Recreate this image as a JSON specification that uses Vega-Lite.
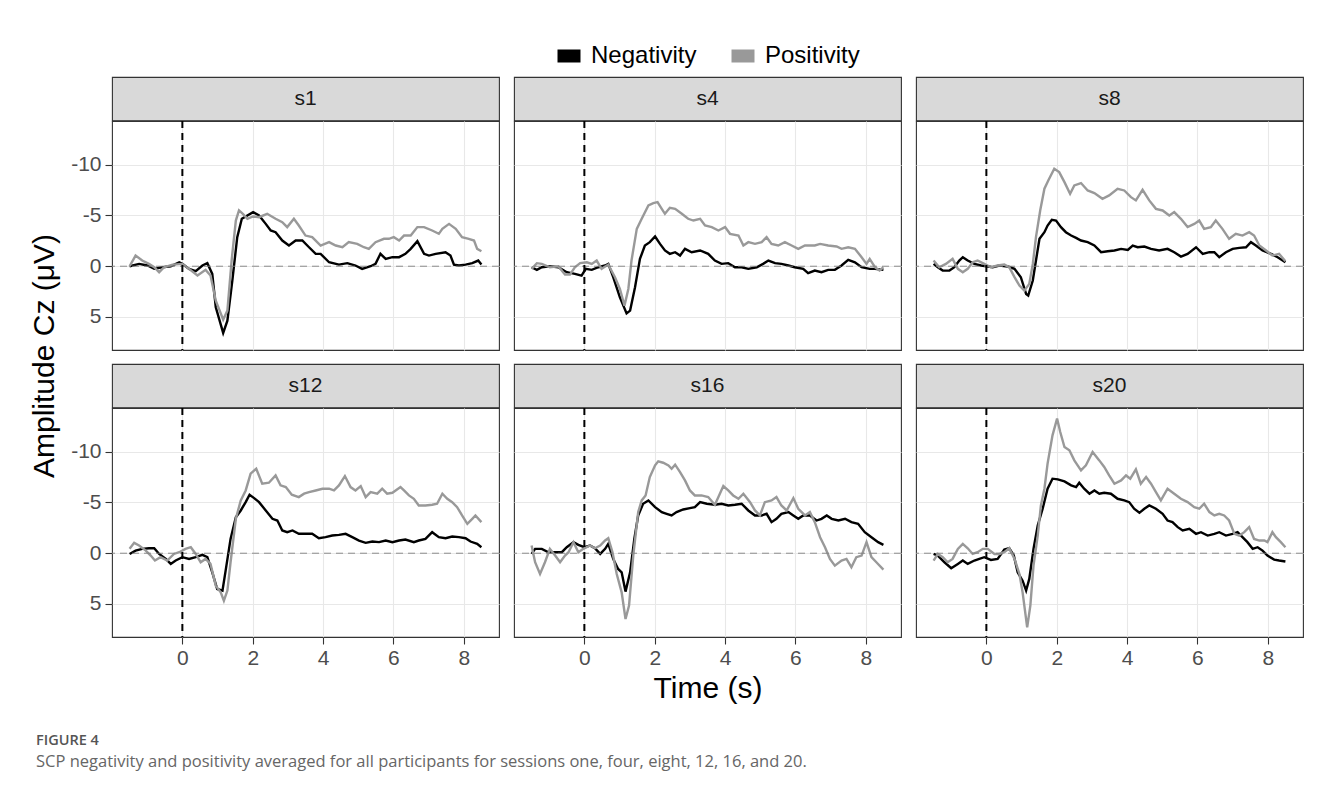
{
"$schema": "https://vega.github.io/schema/vega-lite/v6.json",
"background": "white",
"padding": {"left": 30, "top": 38, "right": 20, "bottom": 10},
"title": {"text": "FIGURE 4", "subtitle": "SCP negativity and positivity averaged for all participants for sessions one, four, eight, 12, 16, and 20.", "orient": "bottom", "anchor": "start", "frame": "group", "dx": -76, "offset": 30, "font": "Open Sans", "fontSize": 14.5, "fontWeight": 600, "color": "#555555", "subtitleFont": "Open Sans", "subtitleFontSize": 16.5, "subtitleColor": "#666666", "subtitlePadding": 6},
"datasets": {"d": [
{"s":"s1","c":"N","t":-1.5,"v":0},{"s":"s1","c":"N","t":-1.23,"v":-0.23},{"s":"s1","c":"N","t":-0.99,"v":-0.07},{"s":"s1","c":"N","t":-0.8,"v":0.26},{"s":"s1","c":"N","t":-0.57,"v":0.1},{"s":"s1","c":"N","t":-0.33,"v":0},{"s":"s1","c":"N","t":-0.09,"v":-0.39},{"s":"s1","c":"N","t":0,"v":-0.23},{"s":"s1","c":"N","t":0.19,"v":0.26},{"s":"s1","c":"N","t":0.38,"v":0.49},{"s":"s1","c":"N","t":0.57,"v":-0.07},{"s":"s1","c":"N","t":0.71,"v":-0.3},{"s":"s1","c":"N","t":0.85,"v":0.76},{"s":"s1","c":"N","t":0.95,"v":4.04},{"s":"s1","c":"N","t":1.16,"v":6.57},{"s":"s1","c":"N","t":1.28,"v":5.36},{"s":"s1","c":"N","t":1.42,"v":1.41},{"s":"s1","c":"N","t":1.56,"v":-2.86},{"s":"s1","c":"N","t":1.69,"v":-4.67},{"s":"s1","c":"N","t":1.8,"v":-4.9},{"s":"s1","c":"N","t":2.01,"v":-5.33},{"s":"s1","c":"N","t":2.18,"v":-5.0},{"s":"s1","c":"N","t":2.37,"v":-4.17},{"s":"s1","c":"N","t":2.51,"v":-3.52},{"s":"s1","c":"N","t":2.65,"v":-3.35},{"s":"s1","c":"N","t":2.84,"v":-2.53},{"s":"s1","c":"N","t":3.03,"v":-2.04},{"s":"s1","c":"N","t":3.22,"v":-2.53},{"s":"s1","c":"N","t":3.41,"v":-2.53},{"s":"s1","c":"N","t":3.6,"v":-1.87},{"s":"s1","c":"N","t":3.79,"v":-1.22},{"s":"s1","c":"N","t":3.93,"v":-1.22},{"s":"s1","c":"N","t":4.17,"v":-0.39},{"s":"s1","c":"N","t":4.45,"v":-0.16},{"s":"s1","c":"N","t":4.69,"v":-0.3},{"s":"s1","c":"N","t":4.92,"v":-0.07},{"s":"s1","c":"N","t":5.11,"v":0.26},{"s":"s1","c":"N","t":5.35,"v":0},{"s":"s1","c":"N","t":5.49,"v":-0.23},{"s":"s1","c":"N","t":5.63,"v":-1.22},{"s":"s1","c":"N","t":5.78,"v":-0.72},{"s":"s1","c":"N","t":5.97,"v":-0.89},{"s":"s1","c":"N","t":6.16,"v":-0.89},{"s":"s1","c":"N","t":6.34,"v":-1.22},{"s":"s1","c":"N","t":6.49,"v":-1.71},{"s":"s1","c":"N","t":6.68,"v":-2.47},{"s":"s1","c":"N","t":6.87,"v":-1.22},{"s":"s1","c":"N","t":7.01,"v":-1.05},{"s":"s1","c":"N","t":7.2,"v":-1.22},{"s":"s1","c":"N","t":7.48,"v":-1.38},{"s":"s1","c":"N","t":7.62,"v":-1.05},{"s":"s1","c":"N","t":7.72,"v":-0.16},{"s":"s1","c":"N","t":7.86,"v":-0.07},{"s":"s1","c":"N","t":8.05,"v":-0.16},{"s":"s1","c":"N","t":8.24,"v":-0.3},{"s":"s1","c":"N","t":8.41,"v":-0.56},{"s":"s1","c":"N","t":8.5,"v":-0.16},
{"s":"s1","c":"P","t":-1.5,"v":0},{"s":"s1","c":"P","t":-1.33,"v":-1.05},{"s":"s1","c":"P","t":-1.14,"v":-0.56},{"s":"s1","c":"P","t":-0.95,"v":-0.23},{"s":"s1","c":"P","t":-0.8,"v":0.1},{"s":"s1","c":"P","t":-0.66,"v":0.59},{"s":"s1","c":"P","t":-0.52,"v":0.1},{"s":"s1","c":"P","t":-0.28,"v":-0.16},{"s":"s1","c":"P","t":0,"v":-0.23},{"s":"s1","c":"P","t":0.19,"v":0.26},{"s":"s1","c":"P","t":0.43,"v":0.92},{"s":"s1","c":"P","t":0.66,"v":0.36},{"s":"s1","c":"P","t":0.8,"v":0.92},{"s":"s1","c":"P","t":0.95,"v":3.39},{"s":"s1","c":"P","t":1.16,"v":5.26},{"s":"s1","c":"P","t":1.28,"v":4.37},{"s":"s1","c":"P","t":1.4,"v":-0.56},{"s":"s1","c":"P","t":1.52,"v":-4.5},{"s":"s1","c":"P","t":1.61,"v":-5.49},{"s":"s1","c":"P","t":1.72,"v":-5.16},{"s":"s1","c":"P","t":1.85,"v":-4.67},{"s":"s1","c":"P","t":2.01,"v":-4.9},{"s":"s1","c":"P","t":2.18,"v":-4.83},{"s":"s1","c":"P","t":2.41,"v":-5.16},{"s":"s1","c":"P","t":2.65,"v":-4.67},{"s":"s1","c":"P","t":2.84,"v":-4.34},{"s":"s1","c":"P","t":2.98,"v":-3.85},{"s":"s1","c":"P","t":3.17,"v":-4.67},{"s":"s1","c":"P","t":3.31,"v":-4.01},{"s":"s1","c":"P","t":3.5,"v":-3.02},{"s":"s1","c":"P","t":3.69,"v":-2.86},{"s":"s1","c":"P","t":3.93,"v":-2.04},{"s":"s1","c":"P","t":4.17,"v":-2.37},{"s":"s1","c":"P","t":4.36,"v":-2.04},{"s":"s1","c":"P","t":4.55,"v":-1.87},{"s":"s1","c":"P","t":4.73,"v":-2.37},{"s":"s1","c":"P","t":4.97,"v":-2.2},{"s":"s1","c":"P","t":5.16,"v":-1.87},{"s":"s1","c":"P","t":5.3,"v":-1.71},{"s":"s1","c":"P","t":5.49,"v":-2.37},{"s":"s1","c":"P","t":5.73,"v":-2.7},{"s":"s1","c":"P","t":5.87,"v":-2.7},{"s":"s1","c":"P","t":6.01,"v":-2.86},{"s":"s1","c":"P","t":6.16,"v":-2.53},{"s":"s1","c":"P","t":6.3,"v":-3.02},{"s":"s1","c":"P","t":6.49,"v":-3.02},{"s":"s1","c":"P","t":6.68,"v":-3.85},{"s":"s1","c":"P","t":6.87,"v":-3.85},{"s":"s1","c":"P","t":7.1,"v":-3.52},{"s":"s1","c":"P","t":7.29,"v":-3.19},{"s":"s1","c":"P","t":7.39,"v":-3.68},{"s":"s1","c":"P","t":7.58,"v":-4.17},{"s":"s1","c":"P","t":7.77,"v":-3.68},{"s":"s1","c":"P","t":7.95,"v":-2.86},{"s":"s1","c":"P","t":8.14,"v":-2.7},{"s":"s1","c":"P","t":8.29,"v":-2.53},{"s":"s1","c":"P","t":8.38,"v":-1.71},{"s":"s1","c":"P","t":8.5,"v":-1.48},
{"s":"s4","c":"N","t":-1.5,"v":0.1},{"s":"s4","c":"N","t":-1.35,"v":0.36},{"s":"s4","c":"N","t":-1.21,"v":0.1},{"s":"s4","c":"N","t":-0.98,"v":0},{"s":"s4","c":"N","t":-0.74,"v":0.1},{"s":"s4","c":"N","t":-0.5,"v":0.59},{"s":"s4","c":"N","t":-0.27,"v":0.76},{"s":"s4","c":"N","t":-0.08,"v":0.92},{"s":"s4","c":"N","t":0.04,"v":0.26},{"s":"s4","c":"N","t":0.21,"v":0.36},{"s":"s4","c":"N","t":0.4,"v":0.1},{"s":"s4","c":"N","t":0.59,"v":-0.07},{"s":"s4","c":"N","t":0.68,"v":-0.23},{"s":"s4","c":"N","t":0.82,"v":1.08},{"s":"s4","c":"N","t":1.01,"v":3.06},{"s":"s4","c":"N","t":1.2,"v":4.64},{"s":"s4","c":"N","t":1.3,"v":4.37},{"s":"s4","c":"N","t":1.44,"v":2.07},{"s":"s4","c":"N","t":1.58,"v":-0.72},{"s":"s4","c":"N","t":1.72,"v":-2.04},{"s":"s4","c":"N","t":1.86,"v":-2.37},{"s":"s4","c":"N","t":2.01,"v":-2.93},{"s":"s4","c":"N","t":2.15,"v":-2.2},{"s":"s4","c":"N","t":2.29,"v":-1.55},{"s":"s4","c":"N","t":2.43,"v":-1.22},{"s":"s4","c":"N","t":2.58,"v":-1.38},{"s":"s4","c":"N","t":2.72,"v":-1.05},{"s":"s4","c":"N","t":2.86,"v":-1.71},{"s":"s4","c":"N","t":3.05,"v":-1.38},{"s":"s4","c":"N","t":3.29,"v":-1.55},{"s":"s4","c":"N","t":3.52,"v":-1.22},{"s":"s4","c":"N","t":3.71,"v":-0.56},{"s":"s4","c":"N","t":3.9,"v":-0.23},{"s":"s4","c":"N","t":4.09,"v":-0.3},{"s":"s4","c":"N","t":4.28,"v":0.1},{"s":"s4","c":"N","t":4.47,"v":0.1},{"s":"s4","c":"N","t":4.66,"v":0.26},{"s":"s4","c":"N","t":4.9,"v":0.1},{"s":"s4","c":"N","t":5.08,"v":-0.23},{"s":"s4","c":"N","t":5.23,"v":-0.56},{"s":"s4","c":"N","t":5.42,"v":-0.3},{"s":"s4","c":"N","t":5.6,"v":-0.23},{"s":"s4","c":"N","t":5.8,"v":-0.07},{"s":"s4","c":"N","t":5.98,"v":0.1},{"s":"s4","c":"N","t":6.22,"v":0.26},{"s":"s4","c":"N","t":6.36,"v":0.69},{"s":"s4","c":"N","t":6.55,"v":0.43},{"s":"s4","c":"N","t":6.74,"v":0.59},{"s":"s4","c":"N","t":6.93,"v":0.36},{"s":"s4","c":"N","t":7.12,"v":0.36},{"s":"s4","c":"N","t":7.31,"v":-0.07},{"s":"s4","c":"N","t":7.5,"v":-0.62},{"s":"s4","c":"N","t":7.69,"v":-0.39},{"s":"s4","c":"N","t":7.88,"v":0.1},{"s":"s4","c":"N","t":8.11,"v":0.26},{"s":"s4","c":"N","t":8.26,"v":0.26},{"s":"s4","c":"N","t":8.5,"v":0.36},
{"s":"s4","c":"P","t":-1.5,"v":0.26},{"s":"s4","c":"P","t":-1.35,"v":-0.3},{"s":"s4","c":"P","t":-1.21,"v":-0.23},{"s":"s4","c":"P","t":-0.98,"v":0.1},{"s":"s4","c":"P","t":-0.74,"v":0},{"s":"s4","c":"P","t":-0.55,"v":0.82},{"s":"s4","c":"P","t":-0.41,"v":0.82},{"s":"s4","c":"P","t":-0.27,"v":0.1},{"s":"s4","c":"P","t":-0.12,"v":-0.3},{"s":"s4","c":"P","t":0.07,"v":-0.39},{"s":"s4","c":"P","t":0.21,"v":-0.23},{"s":"s4","c":"P","t":0.35,"v":-0.56},{"s":"s4","c":"P","t":0.49,"v":0.26},{"s":"s4","c":"P","t":0.68,"v":-0.16},{"s":"s4","c":"P","t":0.87,"v":1.08},{"s":"s4","c":"P","t":1.01,"v":2.24},{"s":"s4","c":"P","t":1.14,"v":3.88},{"s":"s4","c":"P","t":1.25,"v":2.24},{"s":"s4","c":"P","t":1.34,"v":-0.56},{"s":"s4","c":"P","t":1.49,"v":-3.68},{"s":"s4","c":"P","t":1.63,"v":-4.67},{"s":"s4","c":"P","t":1.82,"v":-5.98},{"s":"s4","c":"P","t":1.96,"v":-6.21},{"s":"s4","c":"P","t":2.08,"v":-6.31},{"s":"s4","c":"P","t":2.2,"v":-5.65},{"s":"s4","c":"P","t":2.29,"v":-5.16},{"s":"s4","c":"P","t":2.43,"v":-5.75},{"s":"s4","c":"P","t":2.58,"v":-5.65},{"s":"s4","c":"P","t":2.77,"v":-5.16},{"s":"s4","c":"P","t":2.95,"v":-4.67},{"s":"s4","c":"P","t":3.1,"v":-4.5},{"s":"s4","c":"P","t":3.29,"v":-4.67},{"s":"s4","c":"P","t":3.43,"v":-4.01},{"s":"s4","c":"P","t":3.62,"v":-3.85},{"s":"s4","c":"P","t":3.81,"v":-3.52},{"s":"s4","c":"P","t":4.0,"v":-3.85},{"s":"s4","c":"P","t":4.14,"v":-3.19},{"s":"s4","c":"P","t":4.38,"v":-3.02},{"s":"s4","c":"P","t":4.52,"v":-2.04},{"s":"s4","c":"P","t":4.66,"v":-2.37},{"s":"s4","c":"P","t":4.85,"v":-2.2},{"s":"s4","c":"P","t":5.04,"v":-2.37},{"s":"s4","c":"P","t":5.18,"v":-2.86},{"s":"s4","c":"P","t":5.32,"v":-2.2},{"s":"s4","c":"P","t":5.51,"v":-2.04},{"s":"s4","c":"P","t":5.7,"v":-2.37},{"s":"s4","c":"P","t":5.89,"v":-2.04},{"s":"s4","c":"P","t":6.08,"v":-1.71},{"s":"s4","c":"P","t":6.27,"v":-2.04},{"s":"s4","c":"P","t":6.55,"v":-2.04},{"s":"s4","c":"P","t":6.7,"v":-2.2},{"s":"s4","c":"P","t":6.93,"v":-2.04},{"s":"s4","c":"P","t":7.17,"v":-1.94},{"s":"s4","c":"P","t":7.31,"v":-1.71},{"s":"s4","c":"P","t":7.5,"v":-1.87},{"s":"s4","c":"P","t":7.69,"v":-1.71},{"s":"s4","c":"P","t":7.88,"v":-0.89},{"s":"s4","c":"P","t":8.02,"v":-0.23},{"s":"s4","c":"P","t":8.11,"v":-0.72},{"s":"s4","c":"P","t":8.26,"v":0.1},{"s":"s4","c":"P","t":8.39,"v":0.43},{"s":"s4","c":"P","t":8.5,"v":0.1},
{"s":"s8","c":"N","t":-1.5,"v":-0.23},{"s":"s8","c":"N","t":-1.38,"v":0.1},{"s":"s8","c":"N","t":-1.24,"v":0.43},{"s":"s8","c":"N","t":-1.05,"v":0.43},{"s":"s8","c":"N","t":-0.91,"v":0.1},{"s":"s8","c":"N","t":-0.77,"v":-0.56},{"s":"s8","c":"N","t":-0.67,"v":-0.89},{"s":"s8","c":"N","t":-0.53,"v":-0.56},{"s":"s8","c":"N","t":-0.34,"v":-0.23},{"s":"s8","c":"N","t":-0.15,"v":-0.07},{"s":"s8","c":"N","t":0,"v":0},{"s":"s8","c":"N","t":0.18,"v":0.1},{"s":"s8","c":"N","t":0.37,"v":-0.07},{"s":"s8","c":"N","t":0.61,"v":0.03},{"s":"s8","c":"N","t":0.8,"v":0.26},{"s":"s8","c":"N","t":0.98,"v":1.08},{"s":"s8","c":"N","t":1.13,"v":2.73},{"s":"s8","c":"N","t":1.19,"v":2.89},{"s":"s8","c":"N","t":1.32,"v":1.41},{"s":"s8","c":"N","t":1.41,"v":-0.56},{"s":"s8","c":"N","t":1.51,"v":-2.7},{"s":"s8","c":"N","t":1.65,"v":-3.35},{"s":"s8","c":"N","t":1.74,"v":-4.01},{"s":"s8","c":"N","t":1.86,"v":-4.57},{"s":"s8","c":"N","t":1.98,"v":-4.5},{"s":"s8","c":"N","t":2.12,"v":-3.85},{"s":"s8","c":"N","t":2.26,"v":-3.35},{"s":"s8","c":"N","t":2.41,"v":-3.02},{"s":"s8","c":"N","t":2.55,"v":-2.79},{"s":"s8","c":"N","t":2.69,"v":-2.53},{"s":"s8","c":"N","t":2.88,"v":-2.37},{"s":"s8","c":"N","t":3.07,"v":-2.04},{"s":"s8","c":"N","t":3.26,"v":-1.38},{"s":"s8","c":"N","t":3.45,"v":-1.48},{"s":"s8","c":"N","t":3.64,"v":-1.55},{"s":"s8","c":"N","t":3.83,"v":-1.71},{"s":"s8","c":"N","t":4.02,"v":-1.61},{"s":"s8","c":"N","t":4.16,"v":-2.04},{"s":"s8","c":"N","t":4.3,"v":-1.87},{"s":"s8","c":"N","t":4.49,"v":-1.94},{"s":"s8","c":"N","t":4.68,"v":-1.71},{"s":"s8","c":"N","t":4.91,"v":-1.55},{"s":"s8","c":"N","t":5.15,"v":-1.71},{"s":"s8","c":"N","t":5.34,"v":-1.38},{"s":"s8","c":"N","t":5.53,"v":-0.95},{"s":"s8","c":"N","t":5.72,"v":-1.22},{"s":"s8","c":"N","t":5.96,"v":-1.87},{"s":"s8","c":"N","t":6.15,"v":-1.22},{"s":"s8","c":"N","t":6.34,"v":-1.38},{"s":"s8","c":"N","t":6.48,"v":-1.38},{"s":"s8","c":"N","t":6.62,"v":-0.89},{"s":"s8","c":"N","t":6.81,"v":-1.38},{"s":"s8","c":"N","t":7.0,"v":-1.71},{"s":"s8","c":"N","t":7.19,"v":-1.81},{"s":"s8","c":"N","t":7.38,"v":-1.87},{"s":"s8","c":"N","t":7.52,"v":-2.37},{"s":"s8","c":"N","t":7.66,"v":-2.04},{"s":"s8","c":"N","t":7.85,"v":-1.55},{"s":"s8","c":"N","t":8.09,"v":-1.22},{"s":"s8","c":"N","t":8.28,"v":-0.89},{"s":"s8","c":"N","t":8.5,"v":-0.39},
{"s":"s8","c":"P","t":-1.5,"v":-0.56},{"s":"s8","c":"P","t":-1.34,"v":0.1},{"s":"s8","c":"P","t":-1.15,"v":-0.23},{"s":"s8","c":"P","t":-0.96,"v":-0.72},{"s":"s8","c":"P","t":-0.81,"v":0.26},{"s":"s8","c":"P","t":-0.67,"v":0.59},{"s":"s8","c":"P","t":-0.53,"v":0.26},{"s":"s8","c":"P","t":-0.39,"v":-0.39},{"s":"s8","c":"P","t":-0.25,"v":-0.56},{"s":"s8","c":"P","t":-0.06,"v":-0.23},{"s":"s8","c":"P","t":0.13,"v":0.1},{"s":"s8","c":"P","t":0.32,"v":-0.07},{"s":"s8","c":"P","t":0.51,"v":-0.16},{"s":"s8","c":"P","t":0.65,"v":0.1},{"s":"s8","c":"P","t":0.8,"v":1.08},{"s":"s8","c":"P","t":0.94,"v":1.91},{"s":"s8","c":"P","t":1.08,"v":2.4},{"s":"s8","c":"P","t":1.22,"v":1.74},{"s":"s8","c":"P","t":1.32,"v":-0.23},{"s":"s8","c":"P","t":1.41,"v":-2.86},{"s":"s8","c":"P","t":1.53,"v":-5.49},{"s":"s8","c":"P","t":1.65,"v":-7.63},{"s":"s8","c":"P","t":1.76,"v":-8.45},{"s":"s8","c":"P","t":1.93,"v":-9.6},{"s":"s8","c":"P","t":2.07,"v":-9.27},{"s":"s8","c":"P","t":2.22,"v":-8.28},{"s":"s8","c":"P","t":2.38,"v":-7.13},{"s":"s8","c":"P","t":2.5,"v":-7.96},{"s":"s8","c":"P","t":2.69,"v":-8.19},{"s":"s8","c":"P","t":2.88,"v":-7.46},{"s":"s8","c":"P","t":3.07,"v":-7.2},{"s":"s8","c":"P","t":3.3,"v":-6.64},{"s":"s8","c":"P","t":3.49,"v":-6.97},{"s":"s8","c":"P","t":3.73,"v":-7.63},{"s":"s8","c":"P","t":3.92,"v":-7.46},{"s":"s8","c":"P","t":4.11,"v":-6.8},{"s":"s8","c":"P","t":4.25,"v":-6.48},{"s":"s8","c":"P","t":4.44,"v":-7.53},{"s":"s8","c":"P","t":4.63,"v":-6.48},{"s":"s8","c":"P","t":4.82,"v":-5.65},{"s":"s8","c":"P","t":5.01,"v":-5.49},{"s":"s8","c":"P","t":5.2,"v":-5.0},{"s":"s8","c":"P","t":5.34,"v":-5.33},{"s":"s8","c":"P","t":5.53,"v":-4.67},{"s":"s8","c":"P","t":5.72,"v":-3.85},{"s":"s8","c":"P","t":5.91,"v":-4.17},{"s":"s8","c":"P","t":6.05,"v":-4.5},{"s":"s8","c":"P","t":6.19,"v":-3.68},{"s":"s8","c":"P","t":6.38,"v":-3.85},{"s":"s8","c":"P","t":6.52,"v":-4.5},{"s":"s8","c":"P","t":6.71,"v":-3.68},{"s":"s8","c":"P","t":6.9,"v":-2.7},{"s":"s8","c":"P","t":7.09,"v":-3.19},{"s":"s8","c":"P","t":7.28,"v":-3.02},{"s":"s8","c":"P","t":7.47,"v":-3.35},{"s":"s8","c":"P","t":7.61,"v":-3.02},{"s":"s8","c":"P","t":7.76,"v":-2.04},{"s":"s8","c":"P","t":7.95,"v":-1.55},{"s":"s8","c":"P","t":8.13,"v":-1.05},{"s":"s8","c":"P","t":8.32,"v":-1.22},{"s":"s8","c":"P","t":8.5,"v":-0.49},
{"s":"s12","c":"N","t":-1.5,"v":0.07},{"s":"s12","c":"N","t":-1.33,"v":-0.26},{"s":"s12","c":"N","t":-1.14,"v":-0.43},{"s":"s12","c":"N","t":-0.95,"v":-0.49},{"s":"s12","c":"N","t":-0.8,"v":-0.49},{"s":"s12","c":"N","t":-0.66,"v":0.07},{"s":"s12","c":"N","t":-0.47,"v":0.56},{"s":"s12","c":"N","t":-0.33,"v":1.05},{"s":"s12","c":"N","t":-0.19,"v":0.72},{"s":"s12","c":"N","t":0,"v":0.39},{"s":"s12","c":"N","t":0.19,"v":0.56},{"s":"s12","c":"N","t":0.38,"v":0.39},{"s":"s12","c":"N","t":0.57,"v":0.16},{"s":"s12","c":"N","t":0.71,"v":0.39},{"s":"s12","c":"N","t":0.85,"v":1.88},{"s":"s12","c":"N","t":0.99,"v":3.52},{"s":"s12","c":"N","t":1.14,"v":3.68},{"s":"s12","c":"N","t":1.23,"v":1.71},{"s":"s12","c":"N","t":1.37,"v":-1.41},{"s":"s12","c":"N","t":1.52,"v":-3.55},{"s":"s12","c":"N","t":1.66,"v":-4.21},{"s":"s12","c":"N","t":1.8,"v":-5.03},{"s":"s12","c":"N","t":1.91,"v":-5.76},{"s":"s12","c":"N","t":2.04,"v":-5.43},{"s":"s12","c":"N","t":2.18,"v":-5.03},{"s":"s12","c":"N","t":2.37,"v":-4.21},{"s":"s12","c":"N","t":2.56,"v":-3.39},{"s":"s12","c":"N","t":2.7,"v":-3.22},{"s":"s12","c":"N","t":2.84,"v":-2.24},{"s":"s12","c":"N","t":2.98,"v":-2.07},{"s":"s12","c":"N","t":3.13,"v":-2.24},{"s":"s12","c":"N","t":3.31,"v":-1.91},{"s":"s12","c":"N","t":3.5,"v":-1.91},{"s":"s12","c":"N","t":3.69,"v":-1.91},{"s":"s12","c":"N","t":3.88,"v":-1.48},{"s":"s12","c":"N","t":4.07,"v":-1.58},{"s":"s12","c":"N","t":4.26,"v":-1.74},{"s":"s12","c":"N","t":4.45,"v":-1.81},{"s":"s12","c":"N","t":4.64,"v":-1.91},{"s":"s12","c":"N","t":4.83,"v":-1.58},{"s":"s12","c":"N","t":5.02,"v":-1.25},{"s":"s12","c":"N","t":5.21,"v":-1.02},{"s":"s12","c":"N","t":5.4,"v":-1.15},{"s":"s12","c":"N","t":5.59,"v":-1.09},{"s":"s12","c":"N","t":5.78,"v":-1.25},{"s":"s12","c":"N","t":5.97,"v":-1.09},{"s":"s12","c":"N","t":6.16,"v":-1.25},{"s":"s12","c":"N","t":6.34,"v":-1.35},{"s":"s12","c":"N","t":6.58,"v":-1.09},{"s":"s12","c":"N","t":6.72,"v":-1.25},{"s":"s12","c":"N","t":6.91,"v":-1.41},{"s":"s12","c":"N","t":7.1,"v":-2.07},{"s":"s12","c":"N","t":7.29,"v":-1.58},{"s":"s12","c":"N","t":7.48,"v":-1.48},{"s":"s12","c":"N","t":7.67,"v":-1.64},{"s":"s12","c":"N","t":7.86,"v":-1.58},{"s":"s12","c":"N","t":8.05,"v":-1.48},{"s":"s12","c":"N","t":8.19,"v":-1.15},{"s":"s12","c":"N","t":8.38,"v":-0.92},{"s":"s12","c":"N","t":8.5,"v":-0.59},
{"s":"s12","c":"P","t":-1.5,"v":-0.43},{"s":"s12","c":"P","t":-1.37,"v":-1.02},{"s":"s12","c":"P","t":-1.23,"v":-0.76},{"s":"s12","c":"P","t":-1.04,"v":-0.26},{"s":"s12","c":"P","t":-0.9,"v":0.23},{"s":"s12","c":"P","t":-0.78,"v":0.72},{"s":"s12","c":"P","t":-0.62,"v":0.39},{"s":"s12","c":"P","t":-0.43,"v":0.72},{"s":"s12","c":"P","t":-0.24,"v":0.07},{"s":"s12","c":"P","t":-0.09,"v":-0.1},{"s":"s12","c":"P","t":0.09,"v":-0.43},{"s":"s12","c":"P","t":0.24,"v":-0.59},{"s":"s12","c":"P","t":0.38,"v":0.07},{"s":"s12","c":"P","t":0.52,"v":0.89},{"s":"s12","c":"P","t":0.66,"v":0.56},{"s":"s12","c":"P","t":0.8,"v":1.05},{"s":"s12","c":"P","t":0.95,"v":3.19},{"s":"s12","c":"P","t":1.09,"v":3.85},{"s":"s12","c":"P","t":1.18,"v":4.67},{"s":"s12","c":"P","t":1.28,"v":3.68},{"s":"s12","c":"P","t":1.37,"v":0.89},{"s":"s12","c":"P","t":1.52,"v":-3.39},{"s":"s12","c":"P","t":1.66,"v":-5.2},{"s":"s12","c":"P","t":1.8,"v":-6.18},{"s":"s12","c":"P","t":1.94,"v":-7.83},{"s":"s12","c":"P","t":2.1,"v":-8.32},{"s":"s12","c":"P","t":2.27,"v":-6.84},{"s":"s12","c":"P","t":2.46,"v":-6.94},{"s":"s12","c":"P","t":2.65,"v":-7.66},{"s":"s12","c":"P","t":2.79,"v":-6.68},{"s":"s12","c":"P","t":2.94,"v":-6.51},{"s":"s12","c":"P","t":3.11,"v":-5.76},{"s":"s12","c":"P","t":3.31,"v":-5.53},{"s":"s12","c":"P","t":3.46,"v":-5.86},{"s":"s12","c":"P","t":3.6,"v":-6.02},{"s":"s12","c":"P","t":3.79,"v":-6.18},{"s":"s12","c":"P","t":3.98,"v":-6.35},{"s":"s12","c":"P","t":4.17,"v":-6.35},{"s":"s12","c":"P","t":4.31,"v":-6.18},{"s":"s12","c":"P","t":4.45,"v":-6.68},{"s":"s12","c":"P","t":4.62,"v":-7.6},{"s":"s12","c":"P","t":4.78,"v":-6.51},{"s":"s12","c":"P","t":4.92,"v":-6.18},{"s":"s12","c":"P","t":5.07,"v":-6.61},{"s":"s12","c":"P","t":5.21,"v":-5.53},{"s":"s12","c":"P","t":5.35,"v":-6.02},{"s":"s12","c":"P","t":5.54,"v":-5.86},{"s":"s12","c":"P","t":5.68,"v":-6.35},{"s":"s12","c":"P","t":5.82,"v":-5.86},{"s":"s12","c":"P","t":5.97,"v":-5.95},{"s":"s12","c":"P","t":6.2,"v":-6.51},{"s":"s12","c":"P","t":6.3,"v":-6.18},{"s":"s12","c":"P","t":6.44,"v":-5.69},{"s":"s12","c":"P","t":6.58,"v":-5.36},{"s":"s12","c":"P","t":6.72,"v":-4.7},{"s":"s12","c":"P","t":6.91,"v":-4.7},{"s":"s12","c":"P","t":7.1,"v":-4.77},{"s":"s12","c":"P","t":7.24,"v":-4.87},{"s":"s12","c":"P","t":7.39,"v":-5.86},{"s":"s12","c":"P","t":7.53,"v":-5.36},{"s":"s12","c":"P","t":7.67,"v":-5.03},{"s":"s12","c":"P","t":7.81,"v":-4.54},{"s":"s12","c":"P","t":7.95,"v":-3.72},{"s":"s12","c":"P","t":8.1,"v":-2.89},{"s":"s12","c":"P","t":8.24,"v":-3.39},{"s":"s12","c":"P","t":8.33,"v":-3.72},{"s":"s12","c":"P","t":8.5,"v":-3.06},
{"s":"s16","c":"N","t":-1.5,"v":0.07},{"s":"s16","c":"N","t":-1.4,"v":-0.43},{"s":"s16","c":"N","t":-1.21,"v":-0.43},{"s":"s16","c":"N","t":-1.02,"v":-0.1},{"s":"s16","c":"N","t":-0.83,"v":-0.1},{"s":"s16","c":"N","t":-0.64,"v":-0.1},{"s":"s16","c":"N","t":-0.5,"v":-0.59},{"s":"s16","c":"N","t":-0.31,"v":-1.09},{"s":"s16","c":"N","t":-0.17,"v":-0.82},{"s":"s16","c":"N","t":0,"v":-0.59},{"s":"s16","c":"N","t":0.16,"v":-0.76},{"s":"s16","c":"N","t":0.3,"v":-0.49},{"s":"s16","c":"N","t":0.45,"v":0.07},{"s":"s16","c":"N","t":0.59,"v":-0.43},{"s":"s16","c":"N","t":0.68,"v":-0.92},{"s":"s16","c":"N","t":0.82,"v":0.56},{"s":"s16","c":"N","t":0.96,"v":1.55},{"s":"s16","c":"N","t":1.06,"v":1.88},{"s":"s16","c":"N","t":1.17,"v":3.78},{"s":"s16","c":"N","t":1.3,"v":1.88},{"s":"s16","c":"N","t":1.42,"v":-1.41},{"s":"s16","c":"N","t":1.53,"v":-3.72},{"s":"s16","c":"N","t":1.67,"v":-4.87},{"s":"s16","c":"N","t":1.82,"v":-5.2},{"s":"s16","c":"N","t":2.01,"v":-4.54},{"s":"s16","c":"N","t":2.2,"v":-4.05},{"s":"s16","c":"N","t":2.34,"v":-3.88},{"s":"s16","c":"N","t":2.48,"v":-3.72},{"s":"s16","c":"N","t":2.62,"v":-4.05},{"s":"s16","c":"N","t":2.81,"v":-4.31},{"s":"s16","c":"N","t":3.0,"v":-4.44},{"s":"s16","c":"N","t":3.14,"v":-4.54},{"s":"s16","c":"N","t":3.29,"v":-5.03},{"s":"s16","c":"N","t":3.48,"v":-4.87},{"s":"s16","c":"N","t":3.71,"v":-4.77},{"s":"s16","c":"N","t":3.9,"v":-4.87},{"s":"s16","c":"N","t":4.09,"v":-4.7},{"s":"s16","c":"N","t":4.28,"v":-4.77},{"s":"s16","c":"N","t":4.47,"v":-4.87},{"s":"s16","c":"N","t":4.66,"v":-4.21},{"s":"s16","c":"N","t":4.85,"v":-3.72},{"s":"s16","c":"N","t":5.04,"v":-3.72},{"s":"s16","c":"N","t":5.18,"v":-3.88},{"s":"s16","c":"N","t":5.32,"v":-3.06},{"s":"s16","c":"N","t":5.46,"v":-3.39},{"s":"s16","c":"N","t":5.6,"v":-3.88},{"s":"s16","c":"N","t":5.8,"v":-4.05},{"s":"s16","c":"N","t":5.94,"v":-3.72},{"s":"s16","c":"N","t":6.08,"v":-3.39},{"s":"s16","c":"N","t":6.22,"v":-3.72},{"s":"s16","c":"N","t":6.41,"v":-3.72},{"s":"s16","c":"N","t":6.6,"v":-3.22},{"s":"s16","c":"N","t":6.74,"v":-3.39},{"s":"s16","c":"N","t":6.89,"v":-3.72},{"s":"s16","c":"N","t":7.03,"v":-3.39},{"s":"s16","c":"N","t":7.22,"v":-3.22},{"s":"s16","c":"N","t":7.41,"v":-3.39},{"s":"s16","c":"N","t":7.59,"v":-3.06},{"s":"s16","c":"N","t":7.78,"v":-2.89},{"s":"s16","c":"N","t":7.97,"v":-2.07},{"s":"s16","c":"N","t":8.16,"v":-1.58},{"s":"s16","c":"N","t":8.35,"v":-1.09},{"s":"s16","c":"N","t":8.5,"v":-0.82},
{"s":"s16","c":"P","t":-1.5,"v":-0.76},{"s":"s16","c":"P","t":-1.4,"v":0.89},{"s":"s16","c":"P","t":-1.26,"v":2.04},{"s":"s16","c":"P","t":-1.12,"v":0.89},{"s":"s16","c":"P","t":-0.98,"v":-0.43},{"s":"s16","c":"P","t":-0.83,"v":0.23},{"s":"s16","c":"P","t":-0.69,"v":0.89},{"s":"s16","c":"P","t":-0.55,"v":0.23},{"s":"s16","c":"P","t":-0.45,"v":-0.1},{"s":"s16","c":"P","t":-0.31,"v":-1.09},{"s":"s16","c":"P","t":-0.17,"v":-0.1},{"s":"s16","c":"P","t":-0.03,"v":-0.43},{"s":"s16","c":"P","t":0.16,"v":-0.76},{"s":"s16","c":"P","t":0.3,"v":-0.49},{"s":"s16","c":"P","t":0.45,"v":-0.76},{"s":"s16","c":"P","t":0.59,"v":-1.25},{"s":"s16","c":"P","t":0.68,"v":-1.48},{"s":"s16","c":"P","t":0.8,"v":-0.1},{"s":"s16","c":"P","t":0.92,"v":2.04},{"s":"s16","c":"P","t":1.06,"v":3.85},{"s":"s16","c":"P","t":1.17,"v":6.48},{"s":"s16","c":"P","t":1.27,"v":5.16},{"s":"s16","c":"P","t":1.39,"v":0.23},{"s":"s16","c":"P","t":1.53,"v":-4.05},{"s":"s16","c":"P","t":1.63,"v":-5.2},{"s":"s16","c":"P","t":1.74,"v":-5.69},{"s":"s16","c":"P","t":1.86,"v":-7.5},{"s":"s16","c":"P","t":2.01,"v":-8.65},{"s":"s16","c":"P","t":2.1,"v":-9.05},{"s":"s16","c":"P","t":2.24,"v":-8.91},{"s":"s16","c":"P","t":2.39,"v":-8.65},{"s":"s16","c":"P","t":2.48,"v":-8.32},{"s":"s16","c":"P","t":2.58,"v":-8.72},{"s":"s16","c":"P","t":2.72,"v":-7.99},{"s":"s16","c":"P","t":2.86,"v":-7.17},{"s":"s16","c":"P","t":3.0,"v":-6.18},{"s":"s16","c":"P","t":3.14,"v":-5.69},{"s":"s16","c":"P","t":3.33,"v":-5.69},{"s":"s16","c":"P","t":3.52,"v":-5.53},{"s":"s16","c":"P","t":3.71,"v":-4.77},{"s":"s16","c":"P","t":3.81,"v":-5.53},{"s":"s16","c":"P","t":3.95,"v":-6.61},{"s":"s16","c":"P","t":4.09,"v":-6.18},{"s":"s16","c":"P","t":4.23,"v":-5.69},{"s":"s16","c":"P","t":4.38,"v":-5.36},{"s":"s16","c":"P","t":4.52,"v":-5.86},{"s":"s16","c":"P","t":4.71,"v":-5.03},{"s":"s16","c":"P","t":4.85,"v":-4.21},{"s":"s16","c":"P","t":4.99,"v":-3.72},{"s":"s16","c":"P","t":5.13,"v":-5.03},{"s":"s16","c":"P","t":5.32,"v":-5.2},{"s":"s16","c":"P","t":5.46,"v":-5.53},{"s":"s16","c":"P","t":5.6,"v":-4.7},{"s":"s16","c":"P","t":5.75,"v":-4.21},{"s":"s16","c":"P","t":5.94,"v":-5.43},{"s":"s16","c":"P","t":6.08,"v":-4.38},{"s":"s16","c":"P","t":6.27,"v":-3.72},{"s":"s16","c":"P","t":6.41,"v":-4.05},{"s":"s16","c":"P","t":6.55,"v":-3.06},{"s":"s16","c":"P","t":6.7,"v":-1.58},{"s":"s16","c":"P","t":6.84,"v":-0.59},{"s":"s16","c":"P","t":6.98,"v":0.56},{"s":"s16","c":"P","t":7.12,"v":1.22},{"s":"s16","c":"P","t":7.31,"v":0.72},{"s":"s16","c":"P","t":7.45,"v":0.56},{"s":"s16","c":"P","t":7.59,"v":1.38},{"s":"s16","c":"P","t":7.73,"v":0.39},{"s":"s16","c":"P","t":7.88,"v":0.23},{"s":"s16","c":"P","t":8.02,"v":-1.09},{"s":"s16","c":"P","t":8.16,"v":0.39},{"s":"s16","c":"P","t":8.3,"v":0.89},{"s":"s16","c":"P","t":8.5,"v":1.61},
{"s":"s20","c":"N","t":-1.5,"v":0.07},{"s":"s20","c":"N","t":-1.38,"v":0.23},{"s":"s20","c":"N","t":-1.19,"v":0.89},{"s":"s20","c":"N","t":-1.0,"v":1.48},{"s":"s20","c":"N","t":-0.81,"v":1.05},{"s":"s20","c":"N","t":-0.67,"v":0.72},{"s":"s20","c":"N","t":-0.53,"v":1.05},{"s":"s20","c":"N","t":-0.34,"v":0.72},{"s":"s20","c":"N","t":-0.2,"v":0.56},{"s":"s20","c":"N","t":-0.06,"v":0.39},{"s":"s20","c":"N","t":0.13,"v":0.66},{"s":"s20","c":"N","t":0.32,"v":0.56},{"s":"s20","c":"N","t":0.51,"v":-0.36},{"s":"s20","c":"N","t":0.65,"v":-0.49},{"s":"s20","c":"N","t":0.78,"v":0.23},{"s":"s20","c":"N","t":0.89,"v":1.88},{"s":"s20","c":"N","t":1.03,"v":2.7},{"s":"s20","c":"N","t":1.13,"v":3.68},{"s":"s20","c":"N","t":1.22,"v":2.53},{"s":"s20","c":"N","t":1.34,"v":-0.43},{"s":"s20","c":"N","t":1.46,"v":-2.73},{"s":"s20","c":"N","t":1.6,"v":-4.38},{"s":"s20","c":"N","t":1.74,"v":-6.35},{"s":"s20","c":"N","t":1.88,"v":-7.34},{"s":"s20","c":"N","t":2.03,"v":-7.27},{"s":"s20","c":"N","t":2.22,"v":-7.07},{"s":"s20","c":"N","t":2.41,"v":-6.68},{"s":"s20","c":"N","t":2.55,"v":-6.51},{"s":"s20","c":"N","t":2.64,"v":-6.94},{"s":"s20","c":"N","t":2.78,"v":-6.35},{"s":"s20","c":"N","t":2.93,"v":-5.86},{"s":"s20","c":"N","t":3.07,"v":-6.18},{"s":"s20","c":"N","t":3.21,"v":-5.86},{"s":"s20","c":"N","t":3.35,"v":-5.95},{"s":"s20","c":"N","t":3.54,"v":-5.86},{"s":"s20","c":"N","t":3.73,"v":-5.36},{"s":"s20","c":"N","t":3.92,"v":-5.2},{"s":"s20","c":"N","t":4.06,"v":-5.03},{"s":"s20","c":"N","t":4.2,"v":-4.38},{"s":"s20","c":"N","t":4.35,"v":-3.98},{"s":"s20","c":"N","t":4.49,"v":-4.38},{"s":"s20","c":"N","t":4.63,"v":-4.7},{"s":"s20","c":"N","t":4.82,"v":-4.38},{"s":"s20","c":"N","t":5.01,"v":-3.88},{"s":"s20","c":"N","t":5.15,"v":-3.22},{"s":"s20","c":"N","t":5.29,"v":-3.06},{"s":"s20","c":"N","t":5.44,"v":-2.57},{"s":"s20","c":"N","t":5.58,"v":-2.24},{"s":"s20","c":"N","t":5.77,"v":-2.4},{"s":"s20","c":"N","t":5.96,"v":-1.91},{"s":"s20","c":"N","t":6.1,"v":-2.07},{"s":"s20","c":"N","t":6.29,"v":-1.74},{"s":"s20","c":"N","t":6.48,"v":-1.91},{"s":"s20","c":"N","t":6.62,"v":-2.07},{"s":"s20","c":"N","t":6.81,"v":-1.74},{"s":"s20","c":"N","t":7.0,"v":-1.91},{"s":"s20","c":"N","t":7.14,"v":-2.07},{"s":"s20","c":"N","t":7.28,"v":-1.58},{"s":"s20","c":"N","t":7.42,"v":-1.09},{"s":"s20","c":"N","t":7.57,"v":-0.43},{"s":"s20","c":"N","t":7.71,"v":-0.59},{"s":"s20","c":"N","t":7.85,"v":-0.26},{"s":"s20","c":"N","t":7.99,"v":0.23},{"s":"s20","c":"N","t":8.18,"v":0.63},{"s":"s20","c":"N","t":8.32,"v":0.72},{"s":"s20","c":"N","t":8.5,"v":0.82},
{"s":"s20","c":"P","t":-1.5,"v":0.72},{"s":"s20","c":"P","t":-1.38,"v":0.07},{"s":"s20","c":"P","t":-1.24,"v":0.39},{"s":"s20","c":"P","t":-1.1,"v":0.89},{"s":"s20","c":"P","t":-0.96,"v":0.56},{"s":"s20","c":"P","t":-0.81,"v":-0.43},{"s":"s20","c":"P","t":-0.67,"v":-0.92},{"s":"s20","c":"P","t":-0.53,"v":-0.49},{"s":"s20","c":"P","t":-0.39,"v":0.07},{"s":"s20","c":"P","t":-0.25,"v":-0.1},{"s":"s20","c":"P","t":-0.1,"v":-0.43},{"s":"s20","c":"P","t":0.04,"v":-0.43},{"s":"s20","c":"P","t":0.23,"v":0.07},{"s":"s20","c":"P","t":0.37,"v":0.07},{"s":"s20","c":"P","t":0.51,"v":-0.1},{"s":"s20","c":"P","t":0.65,"v":-0.49},{"s":"s20","c":"P","t":0.8,"v":0.56},{"s":"s20","c":"P","t":0.94,"v":2.04},{"s":"s20","c":"P","t":1.03,"v":3.85},{"s":"s20","c":"P","t":1.16,"v":7.3},{"s":"s20","c":"P","t":1.25,"v":5.16},{"s":"s20","c":"P","t":1.34,"v":1.22},{"s":"s20","c":"P","t":1.46,"v":-1.74},{"s":"s20","c":"P","t":1.55,"v":-4.7},{"s":"s20","c":"P","t":1.65,"v":-6.35},{"s":"s20","c":"P","t":1.74,"v":-8.82},{"s":"s20","c":"P","t":1.88,"v":-11.61},{"s":"s20","c":"P","t":2.01,"v":-13.26},{"s":"s20","c":"P","t":2.1,"v":-11.94},{"s":"s20","c":"P","t":2.22,"v":-10.46},{"s":"s20","c":"P","t":2.36,"v":-10.13},{"s":"s20","c":"P","t":2.5,"v":-9.14},{"s":"s20","c":"P","t":2.69,"v":-8.16},{"s":"s20","c":"P","t":2.83,"v":-8.65},{"s":"s20","c":"P","t":3.02,"v":-9.97},{"s":"s20","c":"P","t":3.21,"v":-9.14},{"s":"s20","c":"P","t":3.35,"v":-8.49},{"s":"s20","c":"P","t":3.49,"v":-7.66},{"s":"s20","c":"P","t":3.64,"v":-6.84},{"s":"s20","c":"P","t":3.83,"v":-7.17},{"s":"s20","c":"P","t":3.97,"v":-7.66},{"s":"s20","c":"P","t":4.09,"v":-7.34},{"s":"s20","c":"P","t":4.25,"v":-8.26},{"s":"s20","c":"P","t":4.39,"v":-6.84},{"s":"s20","c":"P","t":4.54,"v":-7.5},{"s":"s20","c":"P","t":4.68,"v":-6.84},{"s":"s20","c":"P","t":4.82,"v":-6.02},{"s":"s20","c":"P","t":4.96,"v":-5.2},{"s":"s20","c":"P","t":5.15,"v":-6.35},{"s":"s20","c":"P","t":5.34,"v":-5.86},{"s":"s20","c":"P","t":5.53,"v":-5.36},{"s":"s20","c":"P","t":5.72,"v":-5.03},{"s":"s20","c":"P","t":5.91,"v":-4.54},{"s":"s20","c":"P","t":6.05,"v":-4.38},{"s":"s20","c":"P","t":6.19,"v":-4.87},{"s":"s20","c":"P","t":6.34,"v":-4.05},{"s":"s20","c":"P","t":6.48,"v":-3.72},{"s":"s20","c":"P","t":6.62,"v":-3.88},{"s":"s20","c":"P","t":6.76,"v":-3.72},{"s":"s20","c":"P","t":6.9,"v":-3.22},{"s":"s20","c":"P","t":7.05,"v":-1.91},{"s":"s20","c":"P","t":7.19,"v":-1.74},{"s":"s20","c":"P","t":7.33,"v":-2.07},{"s":"s20","c":"P","t":7.47,"v":-2.57},{"s":"s20","c":"P","t":7.61,"v":-1.41},{"s":"s20","c":"P","t":7.76,"v":-1.25},{"s":"s20","c":"P","t":7.9,"v":-1.25},{"s":"s20","c":"P","t":7.99,"v":-1.09},{"s":"s20","c":"P","t":8.13,"v":-2.07},{"s":"s20","c":"P","t":8.23,"v":-1.58},{"s":"s20","c":"P","t":8.37,"v":-1.09},{"s":"s20","c":"P","t":8.5,"v":-0.59}
]},
"vconcat": [
{"title": {"text": "Amplitude Cz (μV)", "orient": "left", "anchor": "middle", "font": "Liberation Sans", "fontSize": 30, "fontWeight": "normal", "color": "#000000", "offset": 10, "dx": 34},
 "spacing": 11,
 "vconcat": [
{"hconcat": [
 {"vconcat": [
  {"width": 387, "height": 43.5, "view": {"fill": "#d9d9d9", "stroke": "#333333", "strokeWidth": 1.1}, "data": {"values": [{"s": "s1"}]}, "mark": {"type": "text", "fontSize": 21, "color": "#1a1a1a"}, "encoding": {"text": {"field": "s", "type": "nominal"}}},
  {"width": 387, "height": 229, "resolve": {"axis": {"x": "independent", "y": "independent"}}, "layer": [
   {"data": {"name": "d"}, "transform": [{"filter": "datum.s == 's1'"}], "mark": {"type": "line", "strokeWidth": 2.4},
    "encoding": {
     "x": {"field": "t", "type": "quantitative", "scale": {"domain": [-2, 9], "nice": false, "zero": false}, "axis": {"values": [0,2,4,6,8], "labels": false, "ticks": false, "title": null}},
     "y": {"field": "v", "type": "quantitative", "scale": {"domain": [-14.3, 8.25], "nice": false, "zero": false, "reverse": true}, "axis": {"values": [-10,-5,0,5], "labelExpr": "'' + datum.value", "title": null}},
     "color": {"field": "c", "type": "nominal", "scale": {"domain": ["N", "P"], "range": ["#000000", "#999999"]}, "legend": {"labelExpr": "datum.label == 'N' ? 'Negativity' : 'Positivity'"}}
    }},
   {"data": {"values": [{"k": 0}]}, "mark": {"type": "rule", "color": "#808080", "strokeWidth": 0.9, "strokeDash": [7, 5]}, "encoding": {"y": {"datum": 0, "type": "quantitative", "axis": {"values": [-12.5,-7.5,-2.5,2.5,7.5], "labels": false, "ticks": false, "title": null, "gridWidth": 0.55}}}},
   {"data": {"values": [{"k": 0}]}, "mark": {"type": "rule", "color": "#000000", "strokeWidth": 2, "strokeDash": [7, 5]}, "encoding": {"x": {"datum": 0, "type": "quantitative", "axis": {"values": [-1,1,3,5,7], "labels": false, "ticks": false, "title": null, "gridWidth": 0.55}}}}
  ]}
 ], "bounds": "flush", "spacing": 0},
 {"vconcat": [
  {"width": 387, "height": 43.5, "view": {"fill": "#d9d9d9", "stroke": "#333333", "strokeWidth": 1.1}, "data": {"values": [{"s": "s4"}]}, "mark": {"type": "text", "fontSize": 21, "color": "#1a1a1a"}, "encoding": {"text": {"field": "s", "type": "nominal"}}},
  {"width": 387, "height": 229, "resolve": {"axis": {"x": "independent", "y": "independent"}}, "layer": [
   {"data": {"name": "d"}, "transform": [{"filter": "datum.s == 's4'"}], "mark": {"type": "line", "strokeWidth": 2.4},
    "encoding": {
     "x": {"field": "t", "type": "quantitative", "scale": {"domain": [-2, 9], "nice": false, "zero": false}, "axis": {"values": [0,2,4,6,8], "labels": false, "ticks": false, "title": null}},
     "y": {"field": "v", "type": "quantitative", "scale": {"domain": [-14.3, 8.25], "nice": false, "zero": false, "reverse": true}, "axis": {"values": [-10,-5,0,5], "labels": false, "ticks": false, "title": null}},
     "color": {"field": "c", "type": "nominal", "scale": {"domain": ["N", "P"], "range": ["#000000", "#999999"]}, "legend": {"labelExpr": "datum.label == 'N' ? 'Negativity' : 'Positivity'"}}
    }},
   {"data": {"values": [{"k": 0}]}, "mark": {"type": "rule", "color": "#808080", "strokeWidth": 0.9, "strokeDash": [7, 5]}, "encoding": {"y": {"datum": 0, "type": "quantitative", "axis": {"values": [-12.5,-7.5,-2.5,2.5,7.5], "labels": false, "ticks": false, "title": null, "gridWidth": 0.55}}}},
   {"data": {"values": [{"k": 0}]}, "mark": {"type": "rule", "color": "#000000", "strokeWidth": 2, "strokeDash": [7, 5]}, "encoding": {"x": {"datum": 0, "type": "quantitative", "axis": {"values": [-1,1,3,5,7], "labels": false, "ticks": false, "title": null, "gridWidth": 0.55}}}}
  ]}
 ], "bounds": "flush", "spacing": 0},
 {"vconcat": [
  {"width": 387, "height": 43.5, "view": {"fill": "#d9d9d9", "stroke": "#333333", "strokeWidth": 1.1}, "data": {"values": [{"s": "s8"}]}, "mark": {"type": "text", "fontSize": 21, "color": "#1a1a1a"}, "encoding": {"text": {"field": "s", "type": "nominal"}}},
  {"width": 387, "height": 229, "resolve": {"axis": {"x": "independent", "y": "independent"}}, "layer": [
   {"data": {"name": "d"}, "transform": [{"filter": "datum.s == 's8'"}], "mark": {"type": "line", "strokeWidth": 2.4},
    "encoding": {
     "x": {"field": "t", "type": "quantitative", "scale": {"domain": [-2, 9], "nice": false, "zero": false}, "axis": {"values": [0,2,4,6,8], "labels": false, "ticks": false, "title": null}},
     "y": {"field": "v", "type": "quantitative", "scale": {"domain": [-14.3, 8.25], "nice": false, "zero": false, "reverse": true}, "axis": {"values": [-10,-5,0,5], "labels": false, "ticks": false, "title": null}},
     "color": {"field": "c", "type": "nominal", "scale": {"domain": ["N", "P"], "range": ["#000000", "#999999"]}, "legend": {"labelExpr": "datum.label == 'N' ? 'Negativity' : 'Positivity'"}}
    }},
   {"data": {"values": [{"k": 0}]}, "mark": {"type": "rule", "color": "#808080", "strokeWidth": 0.9, "strokeDash": [7, 5]}, "encoding": {"y": {"datum": 0, "type": "quantitative", "axis": {"values": [-12.5,-7.5,-2.5,2.5,7.5], "labels": false, "ticks": false, "title": null, "gridWidth": 0.55}}}},
   {"data": {"values": [{"k": 0}]}, "mark": {"type": "rule", "color": "#000000", "strokeWidth": 2, "strokeDash": [7, 5]}, "encoding": {"x": {"datum": 0, "type": "quantitative", "axis": {"values": [-1,1,3,5,7], "labels": false, "ticks": false, "title": null, "gridWidth": 0.55}}}}
  ]}
 ], "bounds": "flush", "spacing": 0}
], "spacing": 13},
{"hconcat": [
 {"vconcat": [
  {"width": 387, "height": 43.5, "view": {"fill": "#d9d9d9", "stroke": "#333333", "strokeWidth": 1.1}, "data": {"values": [{"s": "s12"}]}, "mark": {"type": "text", "fontSize": 21, "color": "#1a1a1a"}, "encoding": {"text": {"field": "s", "type": "nominal"}}},
  {"width": 387, "height": 229, "resolve": {"axis": {"x": "independent", "y": "independent"}}, "layer": [
   {"data": {"name": "d"}, "transform": [{"filter": "datum.s == 's12'"}], "mark": {"type": "line", "strokeWidth": 2.4},
    "encoding": {
     "x": {"field": "t", "type": "quantitative", "scale": {"domain": [-2, 9], "nice": false, "zero": false}, "axis": {"values": [0,2,4,6,8], "title": null}},
     "y": {"field": "v", "type": "quantitative", "scale": {"domain": [-14.3, 8.25], "nice": false, "zero": false, "reverse": true}, "axis": {"values": [-10,-5,0,5], "labelExpr": "'' + datum.value", "title": null}},
     "color": {"field": "c", "type": "nominal", "scale": {"domain": ["N", "P"], "range": ["#000000", "#999999"]}, "legend": {"labelExpr": "datum.label == 'N' ? 'Negativity' : 'Positivity'"}}
    }},
   {"data": {"values": [{"k": 0}]}, "mark": {"type": "rule", "color": "#808080", "strokeWidth": 0.9, "strokeDash": [7, 5]}, "encoding": {"y": {"datum": 0, "type": "quantitative", "axis": {"values": [-12.5,-7.5,-2.5,2.5,7.5], "labels": false, "ticks": false, "title": null, "gridWidth": 0.55}}}},
   {"data": {"values": [{"k": 0}]}, "mark": {"type": "rule", "color": "#000000", "strokeWidth": 2, "strokeDash": [7, 5]}, "encoding": {"x": {"datum": 0, "type": "quantitative", "axis": {"values": [-1,1,3,5,7], "labels": false, "ticks": false, "title": null, "gridWidth": 0.55}}}}
  ]}
 ], "bounds": "flush", "spacing": 0},
 {"vconcat": [
  {"width": 387, "height": 43.5, "view": {"fill": "#d9d9d9", "stroke": "#333333", "strokeWidth": 1.1}, "data": {"values": [{"s": "s16"}]}, "mark": {"type": "text", "fontSize": 21, "color": "#1a1a1a"}, "encoding": {"text": {"field": "s", "type": "nominal"}}},
  {"width": 387, "height": 229, "resolve": {"axis": {"x": "independent", "y": "independent"}}, "layer": [
   {"data": {"name": "d"}, "transform": [{"filter": "datum.s == 's16'"}], "mark": {"type": "line", "strokeWidth": 2.4},
    "encoding": {
     "x": {"field": "t", "type": "quantitative", "scale": {"domain": [-2, 9], "nice": false, "zero": false}, "axis": {"values": [0,2,4,6,8], "title": "Time (s)"}},
     "y": {"field": "v", "type": "quantitative", "scale": {"domain": [-14.3, 8.25], "nice": false, "zero": false, "reverse": true}, "axis": {"values": [-10,-5,0,5], "labels": false, "ticks": false, "title": null}},
     "color": {"field": "c", "type": "nominal", "scale": {"domain": ["N", "P"], "range": ["#000000", "#999999"]}, "legend": {"labelExpr": "datum.label == 'N' ? 'Negativity' : 'Positivity'"}}
    }},
   {"data": {"values": [{"k": 0}]}, "mark": {"type": "rule", "color": "#808080", "strokeWidth": 0.9, "strokeDash": [7, 5]}, "encoding": {"y": {"datum": 0, "type": "quantitative", "axis": {"values": [-12.5,-7.5,-2.5,2.5,7.5], "labels": false, "ticks": false, "title": null, "gridWidth": 0.55}}}},
   {"data": {"values": [{"k": 0}]}, "mark": {"type": "rule", "color": "#000000", "strokeWidth": 2, "strokeDash": [7, 5]}, "encoding": {"x": {"datum": 0, "type": "quantitative", "axis": {"values": [-1,1,3,5,7], "labels": false, "ticks": false, "title": null, "gridWidth": 0.55}}}}
  ]}
 ], "bounds": "flush", "spacing": 0},
 {"vconcat": [
  {"width": 387, "height": 43.5, "view": {"fill": "#d9d9d9", "stroke": "#333333", "strokeWidth": 1.1}, "data": {"values": [{"s": "s20"}]}, "mark": {"type": "text", "fontSize": 21, "color": "#1a1a1a"}, "encoding": {"text": {"field": "s", "type": "nominal"}}},
  {"width": 387, "height": 229, "resolve": {"axis": {"x": "independent", "y": "independent"}}, "layer": [
   {"data": {"name": "d"}, "transform": [{"filter": "datum.s == 's20'"}], "mark": {"type": "line", "strokeWidth": 2.4},
    "encoding": {
     "x": {"field": "t", "type": "quantitative", "scale": {"domain": [-2, 9], "nice": false, "zero": false}, "axis": {"values": [0,2,4,6,8], "title": null}},
     "y": {"field": "v", "type": "quantitative", "scale": {"domain": [-14.3, 8.25], "nice": false, "zero": false, "reverse": true}, "axis": {"values": [-10,-5,0,5], "labels": false, "ticks": false, "title": null}},
     "color": {"field": "c", "type": "nominal", "scale": {"domain": ["N", "P"], "range": ["#000000", "#999999"]}, "legend": {"labelExpr": "datum.label == 'N' ? 'Negativity' : 'Positivity'"}}
    }},
   {"data": {"values": [{"k": 0}]}, "mark": {"type": "rule", "color": "#808080", "strokeWidth": 0.9, "strokeDash": [7, 5]}, "encoding": {"y": {"datum": 0, "type": "quantitative", "axis": {"values": [-12.5,-7.5,-2.5,2.5,7.5], "labels": false, "ticks": false, "title": null, "gridWidth": 0.55}}}},
   {"data": {"values": [{"k": 0}]}, "mark": {"type": "rule", "color": "#000000", "strokeWidth": 2, "strokeDash": [7, 5]}, "encoding": {"x": {"datum": 0, "type": "quantitative", "axis": {"values": [-1,1,3,5,7], "labels": false, "ticks": false, "title": null, "gridWidth": 0.55}}}}
  ]}
 ], "bounds": "flush", "spacing": 0}
], "spacing": 13}
]}
],
"config": {
 "font": "Liberation Sans",
 "view": {"stroke": "#333333", "strokeWidth": 1.1},
 "axis": {"labelFont": "Liberation Sans", "labelFontSize": 21, "labelColor": "#4d4d4d", "tickColor": "#333333", "tickSize": 7, "tickWidth": 1.1, "labelPadding": 4, "titleFont": "Liberation Sans", "titleFontSize": 30, "titleFontWeight": "normal", "titleColor": "#000000", "domain": false, "grid": true, "gridColor": "#e8e8e8", "gridWidth": 1.1, "labelOverlap": false, "labelFlush": false},
 "axisX": {"labelPadding": 3, "titlePadding": 5},
 "legend": {"orient": "none", "legendX": 439, "legendY": -39, "direction": "horizontal", "title": null, "labelFont": "Liberation Sans", "labelFontSize": 24, "labelColor": "#000000", "symbolType": "M-1,0H1", "symbolSize": 529, "symbolStrokeWidth": 13, "labelOffset": 4, "columnPadding": 8}
}
}
